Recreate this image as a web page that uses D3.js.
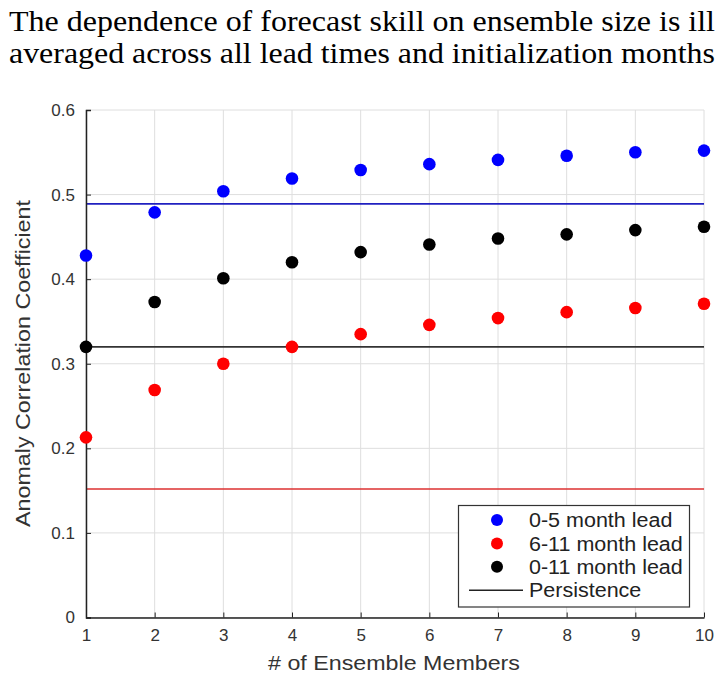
<!DOCTYPE html>
<html><head><meta charset="utf-8">
<script src="https://cdn.jsdelivr.net/npm/d3@7"></script>
<style>body{margin:0;background:#fff;overflow:hidden;} svg{display:block;}</style>
</head><body>
<svg id="c" width="717" height="675"></svg>
<script>
const titleLines = ["The dependence of forecast skill on ensemble size is ill",
                    "averaged across all lead times and initialization months"];
const members = [1,2,3,4,5,6,7,8,9,10];
const lead0to5 = [0.428,0.479,0.504,0.519,0.529,0.536,0.541,0.546,0.550,0.552];
const lead6to11 = [0.213,0.269,0.300,0.320,0.335,0.346,0.354,0.361,0.366,0.371];
const lead0to11 = [0.320,0.373,0.401,0.420,0.432,0.441,0.448,0.453,0.458,0.462];
const persistence = [0.489,0.152,0.320];
const yTicks = [0,0.1,0.2,0.3,0.4,0.5,0.6];
const legendLabels = ["0-5 month lead","6-11 month lead","0-11 month lead","Persistence"];
const seriesColors = ["#0000ff","#ff0000","#000000"];
const lineColors = ["#2020c0","#dd3030","#333333"];

const svg = d3.select("#c");
const x = d3.scaleLinear().domain([1,10]).range([86,704]);
const y = d3.scaleLinear().domain([0,0.6]).range([617.5,110]);
const font = "'Liberation Sans',Arial,sans-serif";

function stretch(sel, k){
  sel.each(function(){
    const w = this.getComputedTextLength();
    d3.select(this).attr("textLength", w*k).attr("lengthAdjust","spacingAndGlyphs");
  });
}

// title
svg.selectAll("text.title").data(titleLines).join("text").attr("class","title")
  .attr("x",9).attr("y",(d,i)=>31+i*32)
  .style("font-family","'Liberation Serif','Times New Roman',serif")
  .style("font-size","30px").attr("fill","#000").text(d=>d)
  .attr("textLength",706).attr("lengthAdjust","spacingAndGlyphs");

// grid
const g = svg.append("g");
g.selectAll("line.gx").data(members).join("line")
  .attr("x1",d=>x(d)).attr("x2",d=>x(d)).attr("y1",y(0)).attr("y2",y(0.6))
  .attr("stroke","#dedede").attr("stroke-width",1);
g.selectAll("line.gy").data(yTicks).join("line")
  .attr("x1",x(1)).attr("x2",x(10)).attr("y1",d=>y(d)).attr("y2",d=>y(d))
  .attr("stroke","#dedede").attr("stroke-width",1);

// persistence lines
g.selectAll("line.p").data(persistence).join("line")
  .attr("x1",x(1)).attr("x2",x(10)).attr("y1",d=>y(d)).attr("y2",d=>y(d))
  .attr("stroke",(d,i)=>lineColors[i]).attr("stroke-width",1.6);

// axes
const ax = svg.append("g").attr("transform",`translate(0,${y(0)})`)
  .call(d3.axisTop(x).tickValues(members).tickSize(5).tickSizeOuter(0).tickFormat(d3.format("d")));
ax.select(".domain").attr("stroke","#222").attr("stroke-width",1.5);
ax.selectAll(".tick line").attr("stroke","#222");
ax.selectAll(".tick text").attr("y",11).attr("dy","0.71em")
  .style("font-family",font).style("font-size","17px").attr("fill","#333");
const ay = svg.append("g").attr("transform",`translate(${x(1)},0)`)
  .call(d3.axisRight(y).tickValues(yTicks).tickSize(5).tickSizeOuter(5).tickFormat(d=>d===0?"0":d3.format(".1f")(d)));
ay.select(".domain").attr("stroke","#222").attr("stroke-width",1.5);
ay.selectAll(".tick line").attr("stroke","#222");
ay.selectAll(".tick text").attr("x",-11).attr("text-anchor","end")
  .style("font-family",font).style("font-size","17px").attr("fill","#333");

// points
[lead0to5,lead6to11,lead0to11].forEach((s,si)=>{
  svg.append("g").selectAll("circle").data(s).join("circle")
    .attr("cx",(d,i)=>x(members[i])).attr("cy",d=>y(d)).attr("r",6.3)
    .attr("fill",seriesColors[si]);
});

// axis labels
svg.append("text").attr("x",394).attr("y",670).attr("text-anchor","middle")
  .style("font-family",font).style("font-size","21px").attr("fill","#333")
  .text("# of Ensemble Members").attr("textLength",252).attr("lengthAdjust","spacingAndGlyphs");
svg.append("text").attr("transform",`translate(30,363.5) rotate(-90)`)
  .attr("text-anchor","middle")
  .style("font-family",font).style("font-size","21px").attr("fill","#333")
  .text("Anomaly Correlation Coefficient").attr("textLength",327).attr("lengthAdjust","spacingAndGlyphs");

// legend
const lg = svg.append("g");
lg.append("rect").attr("x",458.5).attr("y",505.5).attr("width",231).attr("height",101.5)
  .attr("fill","#fff").attr("stroke","#333").attr("stroke-width",1.2);
legendLabels.forEach((t,i)=>{
  const cy = 520 + i*23.4;
  if(i<3){
    lg.append("circle").attr("cx",497).attr("cy",cy).attr("r",6).attr("fill",seriesColors[i]);
  } else {
    lg.append("line").attr("x1",469).attr("x2",523).attr("y1",cy).attr("y2",cy)
      .attr("stroke","#222").attr("stroke-width",1.5);
  }
  lg.append("text").attr("x",529).attr("y",cy).attr("dy","0.36em")
    .style("font-family",font).style("font-size","20px").attr("fill","#222").text(t)
    .call(stretch, 1.075);
});
</script>
</body></html>
